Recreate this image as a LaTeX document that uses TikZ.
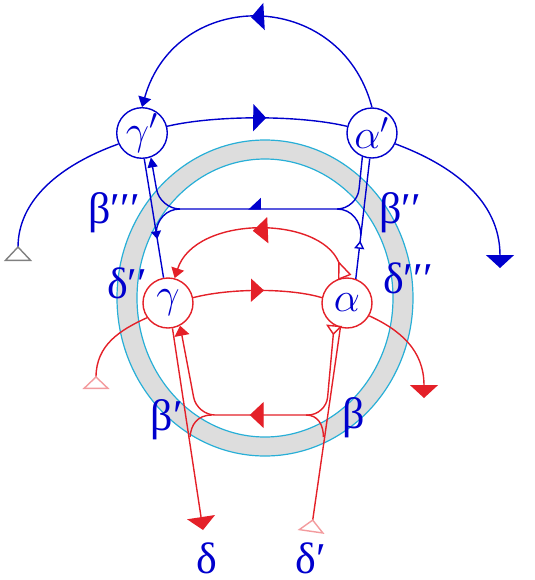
\documentclass[tikz,border=0pt]{standalone}
\usepackage{fontspec}
\setmainfont{Liberation Serif}
\usetikzlibrary{arrows.meta,decorations.markings}
\definecolor{dblue}{RGB}{0,0,205}
\definecolor{dred}{RGB}{228,32,40}
\definecolor{ringgray}{RGB}{221,221,221}
\definecolor{ringcyan}{RGB}{40,175,215}
\tikzset{
  bline/.style={dblue,line width=0.7pt},
  rline/.style={dred,line width=0.7pt},
  vtx/.style={circle,draw,fill=white,line width=0.7pt,minimum size=25pt,inner sep=0pt,
    text=dblue,font=\fontsize{21}{24}\selectfont},
  lab/.style={text=dblue,font=\fontsize{22}{24}\selectfont},
  tipat/.style 2 args={postaction={decorate},
    decoration={markings,mark=at position #1 with {\arrow{#2}}}},
  bigtip/.tip={Triangle[width=13.5pt,length=6.5pt]},
  endtip/.tip={Triangle[width=14pt,length=6.5pt]},
}
\begin{document}
\begin{tikzpicture}[x=0.5pt,y=-0.5pt]
\useasboundingbox (0,0) rectangle (535,580);
% ring
\coordinate (o) at (265,298);
\fill[ringgray,even odd rule] (o) ellipse [x radius=74pt,y radius=79pt]
  (o) ellipse [x radius=64pt,y radius=69.5pt];
\draw[ringcyan,line width=0.6pt] (o) ellipse [x radius=74pt,y radius=79pt];
\draw[ringcyan,line width=0.6pt] (o) ellipse [x radius=64pt,y radius=69.5pt];
% vertices
\node[vtx,draw=dblue] (gp) at (142,133) {$\gamma'$};
\node[vtx,draw=dblue] (ap) at (372,133) {$\alpha'$};
\node[vtx,draw=dred] (g) at (168,303) {$\gamma$};
\node[vtx,draw=dred] (a) at (347,303) {$\alpha$};
% free ends
\coordinate (bl) at (18,261);
\coordinate (br) at (500,268);
\coordinate (rl) at (96,389);
\coordinate (rr) at (424,398);
\coordinate (d) at (203,530);
\coordinate (dp) at (311,532);
% blue
\draw[bline,-{Triangle[width=6.5pt,length=5pt]},tipat={0.52}{bigtip}]
  (ap.90) .. controls (340,-13) and (176,-13) .. (gp.90);
\draw[bline,tipat={0.55}{bigtip}] (gp.15) .. controls (215,115) and (300,115) .. (ap.165);
\draw[bline,-{Triangle[reversed,fill=white,color=gray,width=14pt,length=7.5pt]}]
  (gp.205) .. controls (60,165) and (18,200) .. (bl);
\draw[bline,-endtip] (ap.-25) .. controls (452,165) and (500,200) .. (br);
\draw[bline,tipat={0.675}{Triangle[width=5pt,length=4pt]}] (gp.-85) -- (g.100);
\draw[bline,tipat={0.75}{Triangle[reversed,fill=white,width=5pt,length=4pt]}] (ap.-95) -- (a.70);
\draw[bline,rounded corners=10pt,-{Triangle[width=5pt,length=5pt]},
  tipat={0.535}{Triangle[harpoon,swap,width=11pt,length=6pt]}]
  (ap.-112) -- (357,209) -- (160,209) -- (gp.-70);
\draw[bline] (180,209) .. controls (166,209) and (157,220) .. (156.2,232);
\draw[bline] (337,209) .. controls (352,209) and (361,222) .. (360.8,235);
% red
\draw[rline,{Triangle[reversed,fill=white,width=7pt,length=9pt]}-{Triangle[width=6.5pt,length=5pt]},
  tipat={0.53}{Triangle[width=13pt,length=7.5pt]}]
  (a.95) .. controls (320,215) and (195,215) .. (g.75);
\draw[rline,tipat={0.55}{Triangle[width=11.5pt,length=6.5pt]}]
  (g.12) .. controls (230,288) and (290,288) .. (a.168);
\draw[rline,-{Triangle[reversed,fill=white,color=dred!45,width=13.5pt,length=6.5pt]}]
  (g.215) .. controls (120,330) and (96,345) .. (rl);
\draw[rline,-endtip] (a.-30) .. controls (400,330) and (424,350) .. (rr);
\draw[rline,-endtip] (g.-80) -- (d);
\draw[rline,-{Triangle[reversed,fill=white,color=dred!45,width=13.5pt,length=6.5pt]}] (a.-105) -- (dp);
\draw[rline,rounded corners=9pt,
  {Triangle[reversed,fill=white,width=8pt,length=5pt]}-{Triangle[width=7.5pt,length=5pt]},
  tipat={0.537}{Triangle[width=13pt,length=7pt]}]
  (a.-120) -- (326,415) -- (197,415) -- (g.-62);
\draw[rline] (212,415) .. controls (197,415) and (191,425) .. (190,437);
\draw[rline] (306,415) .. controls (318,415) and (323.5,425) .. (323.4,437);
% labels
\node[lab] (b3) at (114,213) {β′′′};
\node[lab] (b2) at (400,213) {β′′};
\node[lab] (d2) at (127,283) {δ′′};
\node[lab] (d3) at (408,278) {δ′′′};
\node[lab] (b1) at (167,420) {β′};
\node[lab] (b0) at (354,418) {β};
\node[lab] (d0) at (207,558) {δ};
\node[lab] (d1) at (311,558) {δ′};
\end{tikzpicture}
\end{document}
